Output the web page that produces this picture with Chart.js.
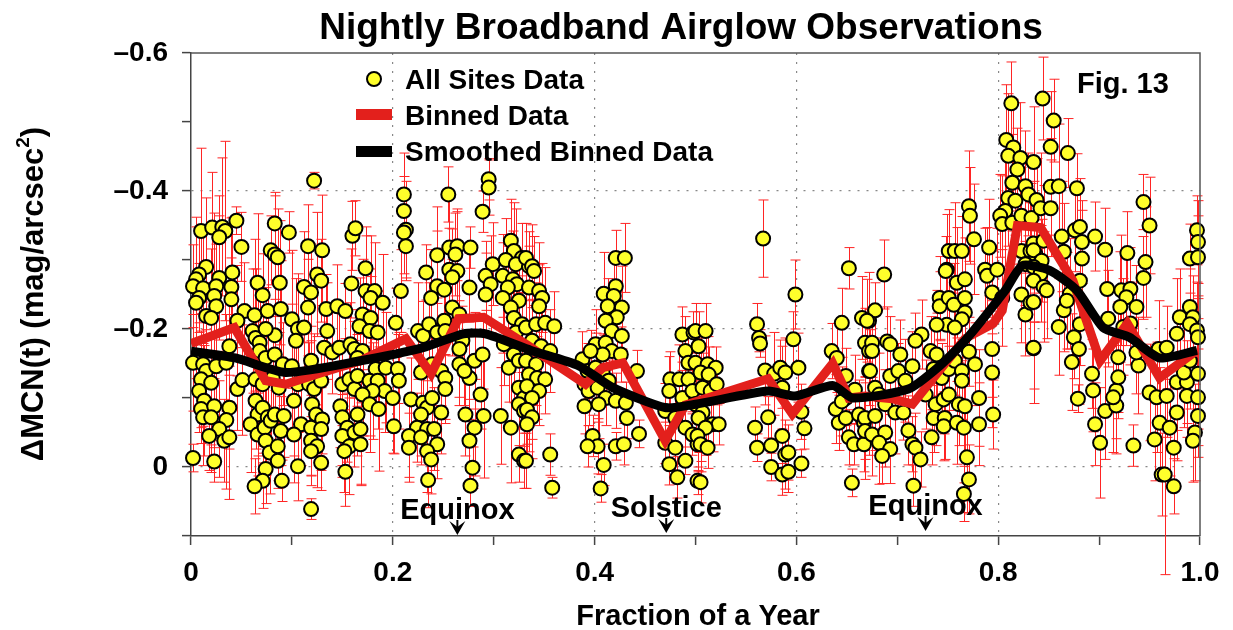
<!DOCTYPE html>
<html>
<head>
<meta charset="utf-8">
<title>Nightly Broadband Airglow Observations</title>
<script src="https://cdn.jsdelivr.net/npm/chart.js@4.4.1/dist/chart.umd.min.js"></script>
<style>
  html, body { margin: 0; padding: 0; background: #fff; }
  canvas { display: block; }
</style>
</head>
<body>
<canvas id="airglowChart" width="1233" height="630"></canvas>
<script>
// each site point: [fraction of year, delta MCN, error]
const sitesA = [
  [0.122,-0.415,0.012],[0.010,-0.342,0.12],[0.021,-0.347,0.08],[0.031,-0.348,0.10],[0.034,-0.342,0.13],
  [0.028,-0.333,0.06],[0.045,-0.357,0.02],[0.050,-0.319,0.05],[0.083,-0.353,0.04],[0.097,-0.340,0.03],
  [0.079,-0.314,0.05],[0.083,-0.308,0.09],[0.086,-0.304,0.07],[0.116,-0.320,0.06],[0.130,-0.314,0.08],
  [0.160,-0.335,0.05],[0.163,-0.346,0.04],[0.015,-0.290,0.10],[0.008,-0.279,0.07],[0.005,-0.272,0.09],
  [0.002,-0.262,0.06],[0.012,-0.259,0.08],[0.008,-0.245,0.05],[0.005,-0.238,0.11],[0.028,-0.274,0.09],
  [0.025,-0.262,0.07],[0.023,-0.248,0.12],[0.041,-0.282,0.08],[0.040,-0.261,0.10],[0.040,-0.243,0.06],
  [0.025,-0.233,0.09],[0.015,-0.219,0.07],[0.020,-0.216,0.10],[0.066,-0.267,0.10],[0.071,-0.249,0.06],
  [0.088,-0.267,0.09],[0.112,-0.261,0.08],[0.119,-0.253,0.07],[0.125,-0.279,0.09],[0.129,-0.270,0.06],
  [0.159,-0.266,0.05],[0.053,-0.226,0.07],[0.063,-0.220,0.11],[0.076,-0.226,0.09],[0.089,-0.229,0.07],
  [0.100,-0.214,0.10],[0.106,-0.200,0.08],[0.112,-0.202,0.06],[0.116,-0.231,0.07],[0.134,-0.229,0.05],
  [0.145,-0.233,0.06],[0.153,-0.226,0.04],[0.135,-0.197,0.07],[0.046,-0.212,0.08],[0.061,-0.197,0.09],
  [0.064,-0.187,0.10],[0.068,-0.180,0.07],[0.083,-0.191,0.08],[0.104,-0.183,0.09],[0.074,-0.200,0.06],
  [0.038,-0.175,0.08],[0.132,-0.173,0.05],[0.140,-0.166,0.06],[0.147,-0.173,0.05],[0.158,-0.178,0.06],
  [0.162,-0.171,0.04],[0.002,-0.151,0.07],[0.012,-0.149,0.09],[0.015,-0.139,0.06],[0.025,-0.146,0.08],
  [0.035,-0.151,0.07],[0.068,-0.168,0.09],[0.074,-0.158,0.07],[0.083,-0.163,0.08],[0.091,-0.149,0.06],
  [0.100,-0.146,0.09],[0.119,-0.154,0.05],[0.010,-0.127,0.07],[0.020,-0.122,0.09],[0.046,-0.113,0.06],
  [0.051,-0.126,0.08],[0.064,-0.127,0.07],[0.071,-0.120,0.09],[0.081,-0.129,0.06],[0.087,-0.115,0.08],
  [0.106,-0.120,0.07],[0.117,-0.120,0.06],[0.122,-0.113,0.08],[0.129,-0.125,0.05],[0.150,-0.120,0.06],
  [0.157,-0.127,0.05],[0.162,-0.113,0.07],[0.008,-0.110,0.06],[0.013,-0.096,0.08],[0.010,-0.084,0.05],
  [0.012,-0.072,0.07],[0.023,-0.088,0.06],[0.020,-0.072,0.08],[0.038,-0.086,0.06],[0.035,-0.068,0.10],
  [0.028,-0.055,0.07],[0.033,-0.038,0.06],[0.038,-0.043,0.09],[0.018,-0.045,0.05],[0.064,-0.096,0.07],
  [0.066,-0.076,0.06],[0.071,-0.086,0.08],[0.076,-0.072,0.05],[0.059,-0.062,0.07],[0.066,-0.047,0.06],
  [0.073,-0.057,0.08],[0.079,-0.067,0.06],[0.083,-0.076,0.07],[0.089,-0.052,0.05],[0.092,-0.074,0.06],
  [0.102,-0.096,0.08],[0.109,-0.062,0.06],[0.102,-0.047,0.07],[0.074,-0.038,0.05],[0.078,-0.021,0.06],
  [0.086,-0.030,0.05],[0.086,-0.009,0.04],[0.120,-0.091,0.07],[0.124,-0.076,0.06],[0.130,-0.069,0.05],
  [0.119,-0.057,0.07],[0.129,-0.055,0.06],[0.119,-0.038,0.05],[0.125,-0.030,0.06],[0.119,-0.023,0.05],
  [0.129,-0.006,0.04],[0.106,-0.001,0.05],[0.148,-0.088,0.06],[0.150,-0.072,0.07],[0.155,-0.057,0.05],
  [0.150,-0.045,0.06],[0.162,-0.050,0.05],[0.157,-0.030,0.07],[0.152,-0.023,0.06],[0.153,0.007,0.05],
  [0.002,-0.013,0.02],[0.023,-0.008,0.03],[0.074,0.003,0.05],[0.071,0.020,0.04],[0.063,0.028,0.04],
  [0.090,0.020,0.03],[0.119,0.061,0.015]
];
const sitesB = [
  [0.211,-0.395,0.06],[0.211,-0.371,0.05],[0.213,-0.344,0.07],[0.211,-0.340,0.06],[0.213,-0.320,0.05],
  [0.255,-0.395,0.04],[0.295,-0.417,0.03],[0.295,-0.405,0.04],[0.289,-0.370,0.03],[0.173,-0.288,0.06],
  [0.244,-0.307,0.07],[0.256,-0.318,0.08],[0.264,-0.320,0.05],[0.262,-0.308,0.06],[0.277,-0.318,0.03],
  [0.233,-0.282,0.04],[0.256,-0.286,0.06],[0.264,-0.284,0.09],[0.259,-0.275,0.07],[0.299,-0.294,0.06],
  [0.292,-0.277,0.05],[0.297,-0.265,0.07],[0.292,-0.250,0.06],[0.276,-0.260,0.05],[0.244,-0.262,0.08],
  [0.251,-0.257,0.06],[0.238,-0.245,0.07],[0.317,-0.328,0.06],[0.320,-0.313,0.07],[0.328,-0.303,0.05],
  [0.312,-0.300,0.06],[0.322,-0.294,0.08],[0.335,-0.291,0.05],[0.309,-0.277,0.06],[0.319,-0.272,0.07],
  [0.323,-0.265,0.05],[0.314,-0.260,0.06],[0.309,-0.245,0.08],[0.325,-0.241,0.06],[0.317,-0.231,0.07],
  [0.208,-0.255,0.06],[0.173,-0.255,0.08],[0.182,-0.255,0.07],[0.178,-0.245,0.09],[0.190,-0.238,0.07],
  [0.170,-0.221,0.08],[0.178,-0.216,0.06],[0.167,-0.204,0.07],[0.177,-0.197,0.09],[0.185,-0.195,0.06],
  [0.203,-0.209,0.05],[0.225,-0.197,0.07],[0.230,-0.190,0.05],[0.236,-0.207,0.06],[0.251,-0.212,0.05],
  [0.259,-0.231,0.07],[0.266,-0.221,0.06],[0.244,-0.195,0.05],[0.252,-0.197,0.06],[0.269,-0.183,0.05],
  [0.266,-0.171,0.07],[0.320,-0.216,0.06],[0.328,-0.207,0.07],[0.322,-0.195,0.05],[0.310,-0.178,0.06],
  [0.320,-0.163,0.07],[0.315,-0.144,0.05],[0.325,-0.154,0.06],[0.281,-0.154,0.07],[0.276,-0.129,0.06],
  [0.289,-0.163,0.05],[0.266,-0.149,0.06],[0.271,-0.139,0.05],[0.170,-0.168,0.06],[0.165,-0.158,0.07],
  [0.183,-0.142,0.06],[0.193,-0.144,0.08],[0.205,-0.142,0.05],[0.206,-0.125,0.07],[0.165,-0.132,0.06],
  [0.177,-0.125,0.08],[0.185,-0.125,0.07],[0.192,-0.110,0.06],[0.200,-0.100,0.08],[0.180,-0.110,0.07],
  [0.170,-0.105,0.06],[0.177,-0.091,0.07],[0.186,-0.084,0.09],[0.165,-0.076,0.06],[0.168,-0.055,0.08],
  [0.168,-0.033,0.06],[0.201,-0.059,0.04],[0.228,-0.137,0.05],[0.239,-0.149,0.06],[0.248,-0.139,0.05],
  [0.252,-0.129,0.06],[0.252,-0.113,0.05],[0.218,-0.098,0.06],[0.230,-0.093,0.05],[0.234,-0.086,0.07],
  [0.228,-0.076,0.06],[0.239,-0.100,0.05],[0.248,-0.079,0.06],[0.224,-0.057,0.05],[0.234,-0.055,0.07],
  [0.241,-0.055,0.06],[0.244,-0.033,0.05],[0.216,-0.045,0.06],[0.216,-0.028,0.05],[0.228,-0.043,0.04],
  [0.234,-0.023,0.06],[0.238,-0.011,0.05],[0.235,0.019,0.04],[0.272,-0.076,0.06],[0.281,-0.057,0.07],
  [0.276,-0.038,0.06],[0.287,-0.105,0.05],[0.290,-0.074,0.09],[0.279,0.001,0.03],[0.277,0.027,0.03],
  [0.307,-0.074,0.07],[0.317,-0.057,0.08],[0.325,-0.115,0.06],[0.330,-0.100,0.07],[0.335,-0.120,0.05],
  [0.325,-0.091,0.06],[0.330,-0.081,0.07],[0.335,-0.072,0.05],[0.325,-0.018,0.04],[0.330,-0.009,0.04]
];
const sitesC = [
  [0.332,-0.303,0.05],[0.338,-0.291,0.06],[0.340,-0.284,0.05],[0.335,-0.260,0.06],[0.345,-0.255,0.07],
  [0.348,-0.245,0.05],[0.345,-0.233,0.06],[0.332,-0.202,0.05],[0.342,-0.207,0.06],[0.351,-0.209,0.08],
  [0.360,-0.204,0.05],[0.338,-0.183,0.06],[0.347,-0.175,0.05],[0.356,-0.168,0.06],[0.332,-0.154,0.05],
  [0.342,-0.149,0.06],[0.335,-0.134,0.05],[0.343,-0.129,0.06],[0.351,-0.127,0.05],[0.333,-0.117,0.06],
  [0.345,-0.110,0.05],[0.338,-0.100,0.06],[0.333,-0.083,0.05],[0.338,-0.072,0.06],[0.333,-0.062,0.05],
  [0.332,-0.009,0.04],[0.356,-0.018,0.03],[0.358,0.030,0.015],[0.421,-0.303,0.04],[0.430,-0.303,0.05],
  [0.421,-0.262,0.05],[0.409,-0.251,0.06],[0.419,-0.248,0.05],[0.413,-0.233,0.04],[0.427,-0.231,0.06],
  [0.422,-0.217,0.05],[0.411,-0.212,0.04],[0.417,-0.197,0.05],[0.427,-0.190,0.04],[0.401,-0.178,0.05],
  [0.411,-0.180,0.04],[0.417,-0.168,0.05],[0.426,-0.163,0.04],[0.408,-0.163,0.03],[0.388,-0.156,0.04],
  [0.396,-0.168,0.03],[0.393,-0.139,0.04],[0.401,-0.144,0.05],[0.408,-0.137,0.04],[0.414,-0.125,0.03],
  [0.442,-0.139,0.03],[0.390,-0.120,0.04],[0.394,-0.110,0.05],[0.390,-0.088,0.04],[0.403,-0.115,0.05],
  [0.411,-0.100,0.04],[0.404,-0.091,0.05],[0.421,-0.096,0.04],[0.431,-0.093,0.03],[0.432,-0.071,0.03],
  [0.444,-0.048,0.02],[0.398,-0.045,0.03],[0.403,-0.030,0.04],[0.393,-0.030,0.03],[0.421,-0.030,0.02],
  [0.429,-0.033,0.03],[0.409,-0.003,0.03],[0.406,0.031,0.02],[0.487,-0.192,0.04],[0.490,-0.168,0.05],
  [0.498,-0.195,0.03],[0.493,-0.151,0.04],[0.475,-0.127,0.04],[0.484,-0.127,0.05],[0.493,-0.127,0.04],
  [0.474,-0.110,0.05],[0.487,-0.100,0.04],[0.497,-0.110,0.03],[0.500,-0.091,0.04],[0.470,-0.081,0.04],
  [0.480,-0.071,0.05],[0.490,-0.057,0.04],[0.497,-0.047,0.03],[0.502,-0.033,0.04],[0.470,-0.035,0.03],
  [0.480,-0.028,0.04],[0.474,-0.004,0.03],[0.482,0.015,0.03],[0.490,-0.009,0.02],[0.502,0.020,0.02]
];
const sitesD = [
  [0.500,-0.197,0.04],[0.503,-0.175,0.05],[0.510,-0.197,0.04],[0.500,-0.151,0.05],[0.512,-0.149,0.04],
  [0.520,-0.144,0.03],[0.505,-0.137,0.05],[0.513,-0.134,0.04],[0.507,-0.115,0.05],[0.515,-0.110,0.04],
  [0.521,-0.120,0.03],[0.500,-0.091,0.05],[0.507,-0.079,0.04],[0.503,-0.071,0.05],[0.517,-0.062,0.04],
  [0.523,-0.062,0.03],[0.510,-0.057,0.04],[0.502,-0.045,0.05],[0.505,-0.033,0.04],[0.512,-0.028,0.03],
  [0.505,0.022,0.03],[0.567,-0.331,0.056],[0.561,-0.207,0.03],[0.563,-0.187,0.02],[0.564,-0.179,0.02],
  [0.569,-0.140,0.05],[0.578,-0.135,0.06],[0.584,-0.144,0.04],[0.589,-0.137,0.05],[0.586,-0.115,0.06],
  [0.572,-0.072,0.03],[0.559,-0.057,0.03],[0.561,-0.028,0.02],[0.575,-0.031,0.04],[0.575,0.000,0.02],
  [0.586,-0.045,0.04],[0.589,-0.018,0.05],[0.592,-0.021,0.04],[0.586,0.011,0.03],[0.592,0.007,0.03],
  [0.599,-0.250,0.05],[0.597,-0.185,0.04],[0.602,-0.144,0.05],[0.605,-0.080,0.04],[0.608,-0.056,0.03],
  [0.605,-0.005,0.02],[0.652,-0.288,0.03],[0.645,-0.209,0.05],[0.635,-0.168,0.04],[0.640,-0.158,0.05],
  [0.649,-0.132,0.04],[0.639,-0.084,0.05],[0.649,-0.100,0.04],[0.645,-0.095,0.05],[0.642,-0.064,0.04],
  [0.649,-0.071,0.03],[0.652,-0.043,0.04],[0.657,-0.033,0.03],[0.662,-0.076,0.05],[0.667,-0.064,0.04],
  [0.672,-0.047,0.03],[0.667,-0.033,0.04],[0.655,0.023,0.02],[0.658,-0.112,0.05],[0.665,-0.216,0.06],
  [0.672,-0.212,0.07],[0.668,-0.180,0.05],[0.672,-0.168,0.06],[0.672,-0.139,0.05]
];
const sitesE = [
  [0.687,-0.279,0.05],[0.678,-0.227,0.04],[0.670,-0.212,0.06],[0.675,-0.180,0.05],[0.675,-0.168,0.06],
  [0.690,-0.182,0.05],[0.693,-0.178,0.04],[0.703,-0.163,0.05],[0.673,-0.139,0.06],[0.693,-0.132,0.05],
  [0.701,-0.139,0.04],[0.715,-0.146,0.05],[0.708,-0.125,0.06],[0.678,-0.115,0.05],[0.682,-0.105,0.06],
  [0.688,-0.091,0.05],[0.698,-0.079,0.06],[0.706,-0.079,0.04],[0.668,-0.071,0.06],[0.678,-0.074,0.05],
  [0.668,-0.052,0.07],[0.675,-0.047,0.06],[0.688,-0.050,0.05],[0.682,-0.035,0.06],[0.693,-0.026,0.05],
  [0.685,-0.016,0.04],[0.711,-0.053,0.05],[0.715,-0.033,0.04],[0.718,-0.028,0.05],[0.723,-0.011,0.04],
  [0.716,0.027,0.03],[0.724,-0.192,0.05],[0.718,-0.183,0.04],[0.733,-0.168,0.05],[0.739,-0.163,0.06],
  [0.749,-0.206,0.07],[0.739,-0.206,0.05],[0.742,-0.245,0.06],[0.742,-0.233,0.05],[0.751,-0.245,0.07],
  [0.756,-0.235,0.06],[0.749,-0.286,0.08],[0.748,-0.284,0.05],[0.751,-0.313,0.06],[0.757,-0.313,0.07],
  [0.764,-0.313,0.05],[0.759,-0.267,0.08],[0.767,-0.272,0.06],[0.767,-0.245,0.07],[0.767,-0.224,0.05],
  [0.764,-0.214,0.06],[0.757,-0.202,0.05],[0.736,-0.142,0.06],[0.744,-0.129,0.05],[0.751,-0.142,0.06],
  [0.757,-0.154,0.05],[0.764,-0.139,0.07],[0.764,-0.125,0.06],[0.771,-0.167,0.05],[0.777,-0.149,0.06],
  [0.728,-0.105,0.05],[0.738,-0.091,0.06],[0.746,-0.098,0.05],[0.751,-0.105,0.04],[0.736,-0.071,0.05],
  [0.747,-0.071,0.06],[0.746,-0.059,0.05],[0.761,-0.091,0.06],[0.767,-0.088,0.07],[0.759,-0.064,0.06],
  [0.766,-0.057,0.08],[0.781,-0.100,0.07],[0.781,-0.062,0.06],[0.794,-0.137,0.08],[0.795,-0.076,0.05],
  [0.794,-0.171,0.07],[0.769,-0.014,0.08],[0.771,0.018,0.05],[0.766,0.039,0.04],[0.734,-0.043,0.04],
  [0.771,-0.378,0.08],[0.772,-0.364,0.07],[0.776,-0.330,0.08],[0.791,-0.318,0.07],[0.787,-0.286,0.06],
  [0.789,-0.277,0.07],[0.799,-0.286,0.06],[0.794,-0.253,0.06],[0.804,-0.245,0.07],[0.813,-0.527,0.06],
  [0.808,-0.474,0.08],[0.815,-0.463,0.07],[0.810,-0.451,0.09],[0.822,-0.448,0.08],[0.819,-0.431,0.06],
  [0.814,-0.412,0.07],[0.827,-0.407,0.08],[0.830,-0.395,0.06],[0.810,-0.390,0.07],[0.817,-0.386,0.05],
  [0.807,-0.371,0.08],[0.802,-0.364,0.06],[0.804,-0.352,0.07],[0.814,-0.354,0.06],[0.823,-0.364,0.07],
  [0.833,-0.361,0.05],[0.823,-0.313,0.06],[0.832,-0.313,0.07],[0.837,-0.308,0.05],[0.827,-0.294,0.06],
  [0.823,-0.250,0.07],[0.827,-0.221,0.06],[0.835,-0.172,0.08],[0.832,-0.238,0.06]
];
const sitesF = [
  [0.844,-0.534,0.06],[0.855,-0.502,0.06],[0.852,-0.464,0.08],[0.869,-0.455,0.05],[0.835,-0.442,0.08],
  [0.852,-0.406,0.07],[0.860,-0.407,0.09],[0.878,-0.404,0.05],[0.838,-0.387,0.06],[0.842,-0.375,0.08],
  [0.852,-0.375,0.07],[0.876,-0.343,0.06],[0.881,-0.348,0.07],[0.863,-0.334,0.08],[0.883,-0.326,0.06],
  [0.896,-0.334,0.05],[0.906,-0.315,0.06],[0.883,-0.302,0.07],[0.835,-0.324,0.09],[0.835,-0.314,0.07],
  [0.845,-0.328,0.08],[0.843,-0.299,0.06],[0.865,-0.312,0.07],[0.835,-0.290,0.08],[0.842,-0.280,0.07],
  [0.835,-0.270,0.06],[0.845,-0.261,0.08],[0.848,-0.256,0.07],[0.835,-0.239,0.06],[0.881,-0.270,0.07],
  [0.871,-0.251,0.08],[0.865,-0.227,0.06],[0.868,-0.241,0.07],[0.908,-0.258,0.06],[0.860,-0.203,0.07],
  [0.875,-0.188,0.06],[0.880,-0.171,0.08],[0.873,-0.152,0.07],[0.881,-0.207,0.06],[0.835,-0.173,0.06],
  [0.879,-0.099,0.02],[0.893,-0.135,0.05],[0.894,-0.111,0.06],[0.917,-0.111,0.07],[0.919,-0.130,0.06],
  [0.919,-0.159,0.08],[0.909,-0.215,0.07],[0.922,-0.256,0.08],[0.931,-0.258,0.06],[0.927,-0.246,0.07],
  [0.921,-0.232,0.08],[0.937,-0.232,0.06],[0.924,-0.203,0.07],[0.931,-0.208,0.06],[0.928,-0.310,0.06],
  [0.944,-0.384,0.04],[0.950,-0.350,0.07],[0.946,-0.297,0.08],[0.944,-0.274,0.06],[0.906,-0.081,0.07],
  [0.901,-0.035,0.08],[0.896,-0.062,0.06],[0.917,-0.089,0.07],[0.914,-0.101,0.08],[0.934,-0.031,0.03],
  [0.939,-0.147,0.07],[0.937,-0.166,0.06],[0.950,-0.108,0.07],[0.957,-0.101,0.08],[0.967,-0.103,0.06],
  [0.959,-0.171,0.07],[0.967,-0.173,0.06],[0.977,-0.193,0.08],[0.980,-0.217,0.07],[0.960,-0.064,0.08],
  [0.970,-0.057,0.07],[0.955,-0.040,0.06],[0.974,-0.028,0.05],[0.977,-0.079,0.07],[0.962,0.011,0.06],
  [0.965,0.011,0.145],[0.974,0.028,0.04],[0.977,-0.123,0.07],[0.987,-0.123,0.06],[0.984,-0.137,0.08],
  [0.990,-0.154,0.07],[0.987,-0.103,0.06],[0.990,-0.232,0.07],[0.993,-0.217,0.06],[0.990,-0.207,0.08],
  [0.997,-0.198,0.07],[0.998,-0.188,0.06],[0.998,-0.135,0.08],[0.998,-0.101,0.07],[0.998,-0.074,0.06],
  [0.995,-0.050,0.07],[0.993,-0.038,0.06],[0.997,-0.343,0.05],[0.998,-0.326,0.06],[0.990,-0.302,0.05],
  [0.998,-0.304,0.06]
];

// binned and smoothed curves
const binX = [0, 0.043, 0.074, 0.094, 0.130, 0.168, 0.213, 0.238, 0.265, 0.290, 0.334, 0.351, 0.391, 0.408,
  0.428, 0.470, 0.490, 0.572, 0.596, 0.636, 0.652, 0.668, 0.695, 0.715, 0.767, 0.795, 0.804, 0.819, 0.842,
  0.874, 0.901, 0.928, 0.960, 0.997];
const binY = [-0.179, -0.202, -0.125, -0.120, -0.137, -0.154, -0.186, -0.135, -0.215, -0.217, -0.176, -0.159,
  -0.120, -0.144, -0.151, -0.038, -0.090, -0.128, -0.077, -0.150, -0.100, -0.103, -0.099, -0.091, -0.186,
  -0.208, -0.227, -0.350, -0.347, -0.270, -0.154, -0.208, -0.129, -0.169];
const smoothX = [0, 0.044, 0.094, 0.168, 0.230, 0.270, 0.292, 0.337, 0.384, 0.418, 0.470, 0.500, 0.572, 0.599,
  0.636, 0.656, 0.711, 0.740, 0.767, 0.807, 0.824, 0.851, 0.878, 0.904, 0.930, 0.960, 0.997];
const smoothY = [-0.168, -0.158, -0.137, -0.154, -0.173, -0.193, -0.193, -0.169, -0.147, -0.115, -0.086, -0.091,
  -0.110, -0.103, -0.118, -0.100, -0.113, -0.144, -0.183, -0.256, -0.292, -0.285, -0.256, -0.202, -0.188,
  -0.158, -0.169];

// season markers
const eventX = [0.264, 0.471, 0.728];
const eventLabels = ['Equinox', 'Solstice', 'Equinox'];

const FONT = "'Liberation Sans', Arial, Helvetica, sans-serif";
const allSites = [...sitesA, ...sitesB, ...sitesC, ...sitesD, ...sitesE, ...sitesF];
const toPts = (xs, ys) => xs.map((x, i) => ({ x, y: ys[i] }));

const tenths = v => Math.round(v * 10);

// red error bars behind the points
const errorBars = {
    id: 'errorBars',
    beforeDatasetsDraw(chart) {
        const { ctx, scales: { x, y } } = chart;
        ctx.save();
        ctx.strokeStyle = '#ff2424';
        ctx.lineWidth = 1;
        ctx.beginPath();
        allSites.forEach(([vx, vy, e]) => {
            const px = Math.round(x.getPixelForValue(vx)) + 0.5;
            const y1 = y.getPixelForValue(vy - e);
            const y2 = y.getPixelForValue(vy + e);
            ctx.moveTo(px, y1); ctx.lineTo(px, y2);
            ctx.moveTo(px - 5, y1); ctx.lineTo(px + 5, y1);
            ctx.moveTo(px - 5, y2); ctx.lineTo(px + 5, y2);
        });
        ctx.stroke();
        ctx.restore();
    }
};

// title, axis titles, legend, labels, frame
const decorations = {
    id: 'decorations',
    afterDraw(chart) {
        const { ctx, chartArea: a, scales: { x } } = chart;
        ctx.save();
        ctx.fillStyle = '#000';

        // frame top and right
        ctx.strokeStyle = '#555';
        ctx.lineWidth = 1.5;
        ctx.beginPath();
        ctx.moveTo(a.left, a.top); ctx.lineTo(a.right, a.top); ctx.lineTo(a.right, a.bottom);
        ctx.stroke();

        // title
        ctx.font = `bold 37px ${FONT}`;
        ctx.textAlign = 'center';
        ctx.textBaseline = 'alphabetic';
        ctx.fillText('Nightly Broadband Airglow Observations', 681, 39);

        // x title
        ctx.font = `bold 29px ${FONT}`;
        ctx.fillText('Fraction of a Year', 698, 625);

        // y title with superscript
        ctx.save();
        ctx.translate(32, 294);
        ctx.rotate(-Math.PI / 2);
        ctx.textAlign = 'left';
        const main = 'ΔMCN(t) (mag/arcsec';
        ctx.font = `bold 31px ${FONT}`;
        const wMain = ctx.measureText(main).width;
        const wEnd = ctx.measureText(')').width;
        ctx.font = `bold 19px ${FONT}`;
        const wSup = ctx.measureText('2').width;
        const start = -(wMain + wSup + wEnd) / 2;
        ctx.font = `bold 31px ${FONT}`;
        ctx.fillText(main, start, 11);
        ctx.fillText(')', start + wMain + wSup, 11);
        ctx.font = `bold 19px ${FONT}`;
        ctx.fillText('2', start + wMain, -3);
        ctx.restore();

        // legend
        ctx.textAlign = 'left';
        ctx.font = `bold 28px ${FONT}`;
        ctx.beginPath();
        ctx.arc(374, 79, 7, 0, Math.PI * 2);
        ctx.fillStyle = '#ffff2b';
        ctx.fill();
        ctx.lineWidth = 2;
        ctx.strokeStyle = '#000';
        ctx.stroke();
        ctx.fillStyle = '#e3201c';
        ctx.fillRect(356, 109, 36, 11);
        ctx.fillStyle = '#000';
        ctx.fillRect(356, 146, 36, 11);
        ctx.fillText('All Sites Data', 405, 89);
        ctx.fillText('Binned Data', 405, 125);
        ctx.fillText('Smoothed Binned Data', 405, 161);

        // figure tag
        ctx.font = `bold 29px ${FONT}`;
        ctx.fillText('Fig. 13', 1077, 93);

        // season markers
        ctx.textAlign = 'center';
        const textBase = [519, 517, 515];
        eventX.forEach((ev, i) => {
            const px = x.getPixelForValue(ev);
            const base = textBase[i];
            ctx.fillText(eventLabels[i], px, base);
            const tip = base + 16;
            ctx.strokeStyle = '#000';
            ctx.lineWidth = 2;
            ctx.beginPath();
            ctx.moveTo(px, base + 1); ctx.lineTo(px, tip - 5);
            ctx.stroke();
            ctx.beginPath();
            ctx.moveTo(px, tip);
            ctx.lineTo(px - 8, tip - 14);
            ctx.lineTo(px, tip - 8);
            ctx.lineTo(px + 8, tip - 14);
            ctx.closePath();
            ctx.fill();
        });
        ctx.restore();
    }
};

const ctx = document.getElementById('airglowChart').getContext('2d');
const chart = new Chart(ctx, {
    type: 'scatter',
    data: {
        datasets: [{
            label: 'Smoothed Binned Data',
            data: toPts(smoothX, smoothY),
            showLine: true,
            borderColor: '#000',
            borderWidth: 9,
            borderJoinStyle: 'round',
            pointRadius: 0,
            tension: 0.2,
            order: 0
        }, {
            label: 'Binned Data',
            data: toPts(binX, binY),
            showLine: true,
            borderColor: '#e3201c',
            borderWidth: 9,
            borderJoinStyle: 'miter',
            pointRadius: 0,
            tension: 0,
            order: 1
        }, {
            label: 'All Sites Data',
            data: allSites.map(([x, y]) => ({ x, y })),
            pointRadius: 7,
            pointBackgroundColor: '#ffff2b',
            pointBorderColor: '#000',
            pointBorderWidth: 2,
            clip: false,
            order: 2
        }]
    },
    options: {
        responsive: false,
        animation: false,
        events: [],
        layout: { padding: { left: 0, right: 33, top: 53, bottom: 0 } },
        plugins: { legend: { display: false }, tooltip: { enabled: false } },
        scales: {
            x: {
                type: 'linear',
                min: 0,
                max: 1,
                afterFit: s => { s.height = 94; },
                ticks: {
                    stepSize: 0.1,
                    autoSkip: false,
                    maxRotation: 0,
                    padding: 11,
                    color: '#000',
                    font: { family: FONT, weight: 'bold', size: 28 },
                    callback: v => {
                        const k = tenths(v);
                        if (k % 2) return '';
                        return k === 0 ? '0' : (k / 10).toFixed(1);
                    }
                },
                grid: {
                    color: c => {
                        const k = tenths(c.tick.value);
                        return (k % 2 === 0 && k > 0 && k < 10) ? '#888' : 'rgba(0,0,0,0)';
                    },
                    lineWidth: 1.2,
                    tickColor: '#444',
                    tickWidth: 1.5,
                    tickLength: 9
                },
                border: { color: '#444', width: 1.5, dash: [2, 7] }
            },
            y: {
                min: -0.6,
                max: 0.1,
                reverse: true,
                afterFit: s => { s.width = 191; },
                ticks: {
                    stepSize: 0.1,
                    autoSkip: false,
                    padding: 14,
                    color: '#000',
                    font: { family: FONT, weight: 'bold', size: 28 },
                    callback: v => {
                        const k = tenths(v);
                        if (k % 2 || k > 0) return '';
                        return k === 0 ? '0' : '\u2013' + (Math.abs(k) / 10).toFixed(1);
                    }
                },
                grid: {
                    color: c => {
                        const k = tenths(c.tick.value);
                        return (k % 2 === 0 && k > -6 && k <= 0) ? '#888' : 'rgba(0,0,0,0)';
                    },
                    lineWidth: 1.2,
                    tickColor: '#444',
                    tickWidth: 1.5,
                    tickLength: 9
                },
                border: { color: '#444', width: 1.5, dash: [2, 7] }
            }
        }
    },
    plugins: [errorBars, decorations]
});
</script>
</body>
</html>
